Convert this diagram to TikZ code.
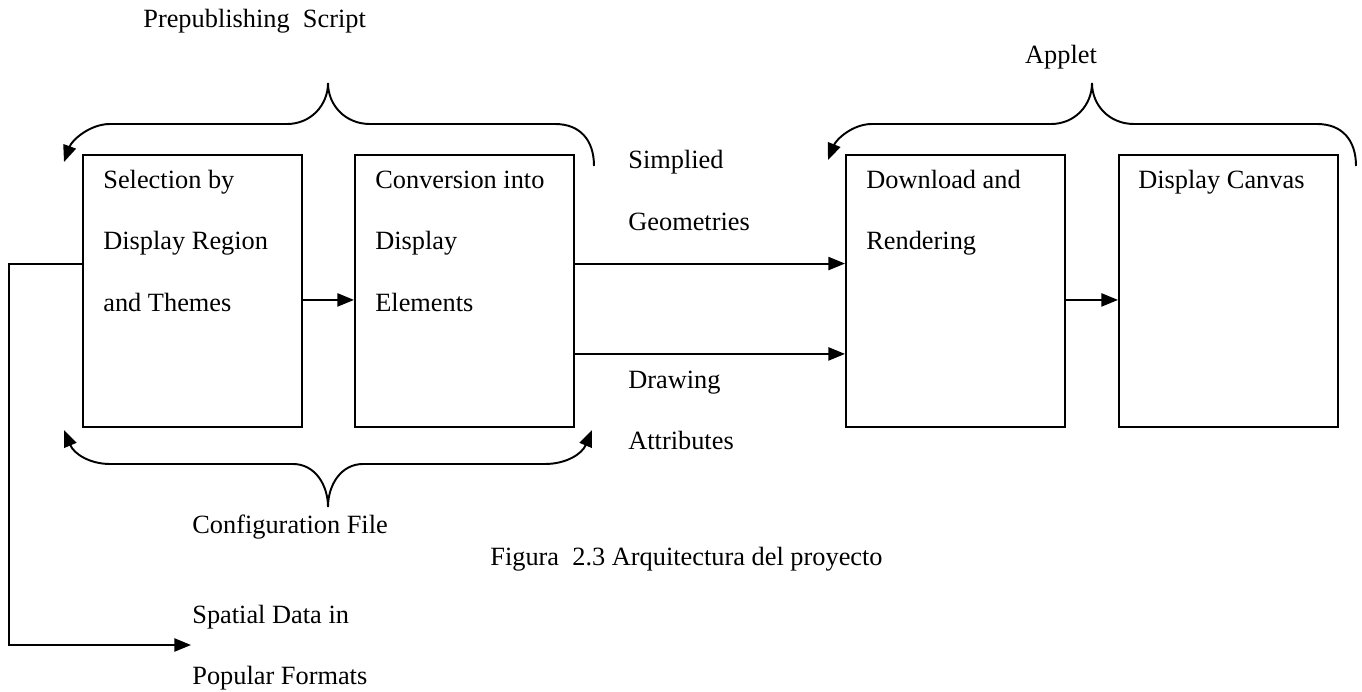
\documentclass[tikz,border=0pt]{standalone}
\usepackage{fontspec}
\setmainfont{Liberation Serif}
\usetikzlibrary{calc, positioning, arrows.meta}

\begin{document}
\begin{tikzpicture}[x=0.02cm, y=-0.02cm,
	blk/.style={draw, line width=1.1pt, anchor=north west, minimum width=4.38cm, minimum height=5.44cm, inner sep=0},
	txt/.style={anchor=base west, inner sep=0, font=\fontsize{15}{18}\selectfont},
	arr/.style={line width=1.1pt, -{Triangle[length=9.5pt, width=7.5pt]}},
	brc/.style={line width=1.1pt}]

		\useasboundingbox (0,0) rectangle (1362,692);

		% nodes - boxes %
		\node[blk] (sel) at (82,154) {};
		\node[blk] (conv) at (354,154) {};
		\node[blk] (down) at (845,154) {};
		\node[blk] (canv) at (1118,154) {};

		% text in the boxes %
		\node[txt] (sel1) at (103,189) {Selection by};
		\node[txt] (sel2) at (103,250) {Display Region};
		\node[txt] (sel3) at (103,312) {and Themes};
		\node[txt] (conv1) at (375,189) {Conversion into};
		\node[txt] (conv2) at (375,250) {Display};
		\node[txt] (conv3) at (375,312) {Elements};
		\node[txt] (down1) at (866,189) {Download and};
		\node[txt] (down2) at (866,250) {Rendering};
		\node[txt] (canv1) at (1138,189) {Display Canvas};

		% labels %
		\node[txt] (pre) at (143,28) {Prepublishing\ \ Script};
		\node[txt, anchor=base] (app) at (1061,64) {Applet};
		\node[txt] (geo1) at (628,169) {Simplied};
		\node[txt] (geo2) at (628,231) {Geometries};
		\node[txt] (att1) at (628,388) {Drawing};
		\node[txt] (att2) at (628,449) {Attributes};
		\node[txt] (cfg) at (192,533) {Configuration File};
		\node[txt] (fig) at (490,565) {Figura\ \ 2.3 Arquitectura del proyecto};
		\node[txt] (spa1) at (192,623) {Spatial Data in};
		\node[txt] (spa2) at (192,684) {Popular Formats};

		% edges %
		\draw[arr] ([yshift=-0.18cm]sel.east) -- ([yshift=-0.18cm]conv.west);
		\draw[arr] ($(conv.north east)!0.4!(conv.south east)$) -- ($(down.north west)!0.4!(down.south west)$);
		\draw[arr] ($(conv.north east)!0.73!(conv.south east)$) -- ($(down.north west)!0.73!(down.south west)$);
		\draw[arr] ([yshift=-0.18cm]down.east) -- ([yshift=-0.18cm]canv.west);
		\coordinate (spain) at (191,645);
		\draw[arr] ($(sel.north west)!0.4!(sel.south west)$) -- ++(-73,0) |- (spain);

		% braces %
		\draw[brc, -{Triangle[length=9.5pt, width=7.5pt]}] (594,166) .. controls (594,140) and (580,124) .. (555,124) -- (370,124)
			.. controls (345,124) and (328,105) .. (328,83) .. controls (328,105) and (311,124) .. (287,124) -- (110,124)
			.. controls (90,124) and (72,140) .. (64,162);
		\draw[brc, -{Triangle[length=9.5pt, width=7.5pt]}] (1356,166) .. controls (1356,140) and (1342,124) .. (1317,124) -- (1134,124)
			.. controls (1109,124) and (1092,105) .. (1092,83) .. controls (1092,105) and (1075,124) .. (1051,124) -- (872,124)
			.. controls (852,124) and (836,140) .. (828,160);
		\draw[brc, {Triangle[length=9.5pt, width=7.5pt]}-{Triangle[length=9.5pt, width=7.5pt]}] (64,430) .. controls (74,454) and (90,464) .. (110,464) -- (293,464)
			.. controls (315,464) and (328,485) .. (328,507) .. controls (328,485) and (341,464) .. (363,464) -- (545,464)
			.. controls (566,464) and (582,454) .. (592,430);

\end{tikzpicture}
\end{document}
